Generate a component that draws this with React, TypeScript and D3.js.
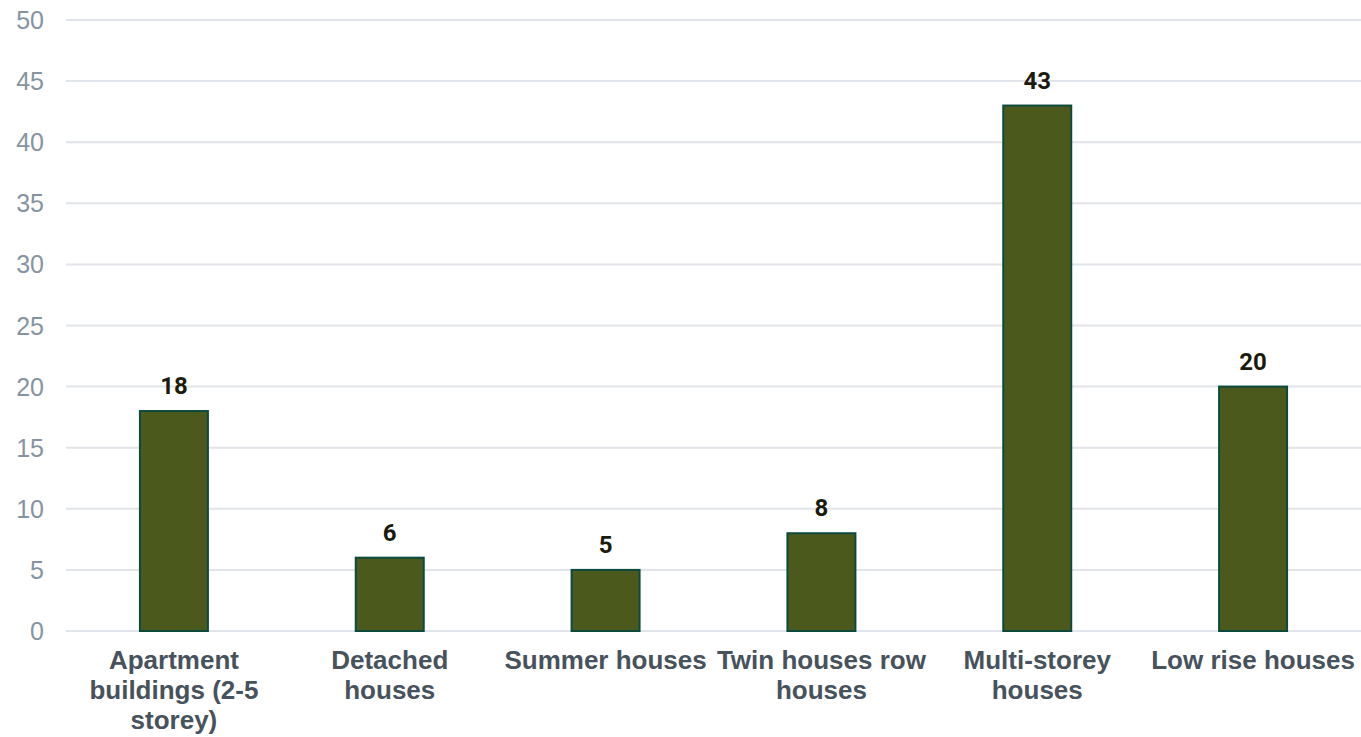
import React, { useEffect, useRef } from "react";
import * as d3 from "d3";

const categories = [
  "Apartment buildings (2-5 storey)",
  "Detached houses",
  "Summer houses",
  "Twin houses row houses",
  "Multi-storey houses",
  "Low rise houses",
];
const categoryLines = [
  ["Apartment", "buildings (2-5", "storey)"],
  ["Detached", "houses"],
  ["Summer houses"],
  ["Twin houses row", "houses"],
  ["Multi-storey", "houses"],
  ["Low rise houses"],
];
const values = [18, 6, 5, 8, 43, 20];
const yTicks = [0, 5, 10, 15, 20, 25, 30, 35, 40, 45, 50];

const W = 1361;
const H = 737;

export default function App() {
  const ref = useRef<SVGSVGElement>(null);
  useEffect(() => {
    document.body.style.margin = "0";
    const svg = d3.select(ref.current);
    svg.selectAll("*").remove();
    const left = 66, right = 1361, top = 20, bottom = 631;
    const x = d3.scaleBand<string>().domain(categories).range([left, right]).padding(0);
    const y = d3.scaleLinear().domain([0, 50]).range([bottom, top]);
    const barW = x.step() * 0.315;

    const g = svg.append("g");
    g.selectAll("line.grid")
      .data(yTicks)
      .join("line")
      .attr("x1", left)
      .attr("x2", right)
      .attr("y1", (d) => y(d))
      .attr("y2", (d) => y(d))
      .attr("stroke", "#e1e4e8")
      .attr("stroke-width", 2);
    g.selectAll("text.ytick")
      .data(yTicks)
      .join("text")
      .attr("x", 44)
      .attr("y", (d) => y(d))
      .attr("dy", "0.36em")
      .attr("text-anchor", "end")
      .attr("fill", "#8694a1")
      .style("font-family", "'Liberation Sans', Arial, sans-serif")
      .style("font-size", "25px")
      .text((d) => String(d));

    g.selectAll("rect.bar")
      .data(values)
      .join("rect")
      .attr("x", (_, i) => (x(categories[i]) as number) + x.bandwidth() / 2 - barW / 2)
      .attr("y", (d) => y(d))
      .attr("width", barW)
      .attr("height", (d) => bottom - y(d))
      .attr("fill", "#4b5a1c")
      .attr("stroke", "#0c4a3e")
      .attr("stroke-width", 2);

    g.selectAll("text.val")
      .data(values)
      .join("text")
      .attr("x", (_, i) => (x(categories[i]) as number) + x.bandwidth() / 2)
      .attr("y", (d) => y(d) - 17)
      .attr("text-anchor", "middle")
      .attr("fill", "#1b1b0c")
      .style("font-family", "Roboto, 'Open Sans', sans-serif")
      .style("font-weight", "700")
      .style("font-size", "24px")
      .text((d) => String(d));

    categories.forEach((c, ci) => {
      const cx = (x(c) as number) + x.bandwidth() / 2;
      const t = g
        .append("text")
        .attr("text-anchor", "middle")
        .attr("fill", "#47525c")
        .style("font-family", "'Liberation Sans', Arial, sans-serif")
        .style("font-weight", "700")
        .style("font-size", "26px");
      categoryLines[ci].forEach((l, i) => {
        t.append("tspan").attr("x", cx).attr("y", 669 + i * 30).text(l);
      });
    });
  }, []);
  return <svg ref={ref} width={W} height={H} style={{ display: "block" }} />;
}
